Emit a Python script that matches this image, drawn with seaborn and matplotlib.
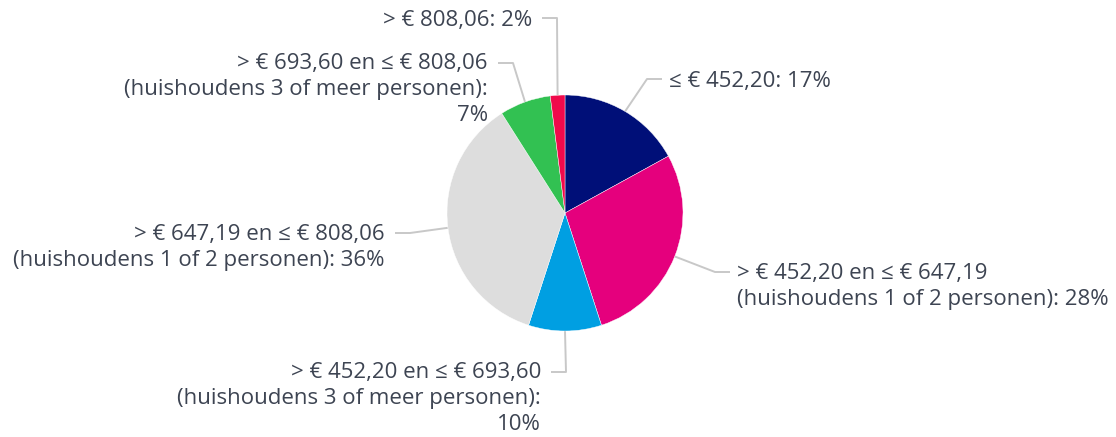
import numpy as np
import matplotlib
matplotlib.use("Agg")
import matplotlib.pyplot as plt
import seaborn as sns

# slices, clockwise from 12 o'clock
labels = [
    "≤ € 452,20: 17%",
    "> € 452,20 en ≤ € 647,19\n(huishoudens 1 of 2 personen): 28%",
    "> € 452,20 en ≤ € 693,60\n(huishoudens 3 of meer personen):\n10%",
    "> € 647,19 en ≤ € 808,06\n(huishoudens 1 of 2 personen): 36%",
    "> € 693,60 en ≤ € 808,06\n(huishoudens 3 of meer personen):\n7%",
    "> € 808,06: 2%",
]
shares = [17, 28, 10, 36, 7, 2]
colors = ["#000f78", "#e5007d", "#009fe2", "#dddddd", "#32c152", "#f00a4b"]

# leader elbow (pixels from top-left) and which side the label sits on
elbows = [(647, 79), (715, 272), (566, 372), (410, 233), (513, 63), (557, 18)]
sides = ["right", "right", "left", "left", "left", "left"]

W, H = 1116, 437
cx, cy, R = 565, 213, 118
line_px = 25  # distance between text lines in pixels

def to_data(px, py):
    return (px - cx) / R, (cy - py) / R

sns.set_theme(style="white")
plt.rcParams["font.family"] = ["Open Sans", "DejaVu Sans"]
text_color = "#3d4452"
line_color = "#c8c8c8"

fig = plt.figure(figsize=(W / 100, H / 100), dpi=100)
ax = fig.add_axes([0, 0, 1, 1])

wedges, _ = ax.pie(shares, colors=colors, startangle=90, counterclock=False,
                   radius=1, center=(0, 0),
                   wedgeprops=dict(edgecolor="white", linewidth=0.3))

# pie() sets its own limits, so fix them afterwards
ax.set_xlim(-cx / R, (W - cx) / R)
ax.set_ylim(-(H - cy) / R, cy / R)
ax.set_aspect("equal")
ax.axis("off")

for w, lab, (ex, ey), side in zip(wedges, labels, elbows, sides):
    ang = np.deg2rad((w.theta1 + w.theta2) / 2)
    x0, y0 = np.cos(ang), np.sin(ang)
    step = 15 if side == "right" else -15
    x1, y1 = to_data(ex, ey)
    x2, y2 = to_data(ex + step, ey)
    ax.plot([x0, x1, x2], [y0, y1, y2], color=line_color, lw=1.4,
            solid_capstyle="butt", zorder=0)
    # baseline anchor is the last line, so push down by the extra lines
    n_extra = lab.count("\n")
    tx, ty = to_data(ex + step + (7 if side == "right" else -10),
                     ey + 8 + n_extra * line_px)
    ha = "left" if side == "right" else "right"
    ax.text(tx, ty, lab, ha=ha, va="baseline", multialignment=ha,
            fontsize=16, color=text_color, linespacing=1.3)

fig.savefig("out.png", dpi=100, facecolor="white")
